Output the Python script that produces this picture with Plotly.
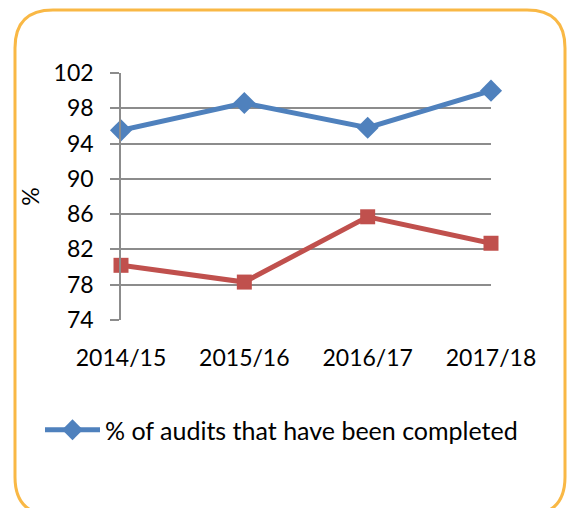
import plotly.graph_objects as go

categories = ["2014/15", "2015/16", "2016/17", "2017/18"]
audits_completed = [95.5, 98.6, 95.8, 100.0]
second_series = [80.2, 78.3, 85.7, 82.7]
y_ticks = [74, 78, 82, 86, 90, 94, 98, 102]

W, H = 570, 508
L, R, T, B = 121, 491, 73, 320

def px(x):
    return (x - L) / (R - L)

def py(y):
    return (B - y) / (B - T)

FONT = "Lato"
fig = go.Figure()
fig.add_trace(go.Scatter(
    x=categories, y=audits_completed, mode="lines+markers",
    name="% of audits that have been completed",
    line=dict(color="#4F81BD", width=5),
    marker=dict(symbol="diamond", size=17, color="#4F81BD"),
    cliponaxis=False,
))
fig.add_trace(go.Scatter(
    x=categories, y=second_series, mode="lines+markers",
    name="", showlegend=False,
    line=dict(color="#C0504D", width=5),
    marker=dict(symbol="square", size=15, color="#C0504D"),
    cliponaxis=False,
))

# rounded orange frame
l, r, t, b, rad = 15, 565, 10, 515, 38
pts = [
    ("M", [(l + rad, t)]), ("L", [(r - rad, t)]), ("Q", [(r, t), (r, t + rad)]),
    ("L", [(r, b - rad)]), ("Q", [(r, b), (r - rad, b)]),
    ("L", [(l + rad, b)]), ("Q", [(l, b), (l, b - rad)]),
    ("L", [(l, t + rad)]), ("Q", [(l, t), (l + rad, t)]),
]
path = " ".join(c + " " + " ".join(f"{px(a):.5f},{py(bb):.5f}" for a, bb in p) for c, p in pts) + " Z"
fig.add_shape(type="path", xref="paper", yref="paper", path=path,
              line=dict(color="#F9B845", width=3), layer="below")

fig.update_layout(
    width=W, height=H,
    margin=dict(l=L, r=W - R, t=T, b=H - B),
    paper_bgcolor="white", plot_bgcolor="white",
    font=dict(family=FONT, size=23, color="#000000"),
    showlegend=True,
    legend=dict(x=px(40), y=py(430), xanchor="left", yanchor="middle",
                bgcolor="rgba(0,0,0,0)", itemwidth=55,
                font=dict(family=FONT, size=25)),
    xaxis=dict(type="category", range=[0, 3], showgrid=False, zeroline=False,
               showline=False, ticks="outside", ticklen=17, tickcolor="rgba(0,0,0,0)",
               tickfont=dict(size=23)),
    yaxis=dict(range=[74, 102], tickvals=y_ticks, showgrid=True, gridcolor="#8C8C8C",
               gridwidth=1.5, zeroline=False, showline=True, linecolor="#8C8C8C",
               linewidth=1.5, ticks="outside", ticklen=9, tickcolor="#8C8C8C",
               tickwidth=1.5, ticklabelstandoff=12, tickfont=dict(size=23),
               title=dict(text="%", standoff=8, font=dict(size=23))),
)

fig.write_html("out.html")
